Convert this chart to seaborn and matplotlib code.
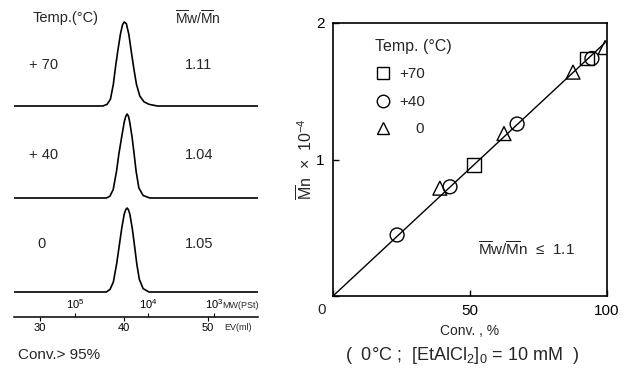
import numpy as np
import pandas as pd
import matplotlib
matplotlib.use("Agg")
import matplotlib.pyplot as plt
from matplotlib.lines import Line2D
import seaborn as sns

# --- GPC traces: elution volume (ml) vs normalised detector response ---
ev_70 = [26.9, 37.5, 38.0, 38.4, 38.75, 39.0, 39.3, 39.6, 39.85, 40.05, 40.3, 40.6, 40.9, 41.2, 41.5, 41.9, 42.4, 43.0, 44.0, 56.0]
h_70 = [0.0, 0.0, 0.02, 0.08, 0.26, 0.46, 0.67, 0.86, 0.97, 1.0, 0.98, 0.85, 0.64, 0.44, 0.26, 0.12, 0.05, 0.02, 0.0, 0.0]
ev_40 = [26.9, 37.9, 38.33, 38.73, 39.13, 39.4, 39.73, 40.04, 40.22, 40.39, 40.56, 40.71, 40.99, 41.23, 41.46, 41.79, 42.3, 43.1, 56.0]
h_40 = [0.0, 0.0, 0.02, 0.10, 0.32, 0.52, 0.72, 0.90, 0.97, 1.0, 0.97, 0.90, 0.72, 0.52, 0.32, 0.12, 0.03, 0.0, 0.0]
ev_0 = [26.9, 37.9, 38.35, 38.75, 39.15, 39.45, 39.75, 40.05, 40.23, 40.39, 40.55, 40.73, 41.03, 41.3, 41.55, 41.85, 42.3, 43.0, 56.0]
h_0 = [0.0, 0.0, 0.03, 0.12, 0.34, 0.55, 0.76, 0.93, 0.98, 1.0, 0.98, 0.92, 0.74, 0.53, 0.33, 0.15, 0.04, 0.0, 0.0]

gpc_temps = ["+ 70", "+ 40", "0"]
gpc_mwmn = ["1.11", "1.04", "1.05"]
ev_ticks = [30, 40, 50]
mw_tick_ev = [34.2, 42.9, 50.8]
mw_tick_labels = ["$10^5$", "$10^4$", "$10^3$"]

# --- Mn vs conversion ---
temps = ["+70", "+40", "0"]
conv_70 = [51.5, 92.7]
mn_70 = [0.96, 1.74]
conv_40 = [23.4, 42.7, 67.2, 94.5]
mn_40 = [0.447, 0.80, 1.26, 1.74]
conv_0 = [39.0, 62.4, 87.6, 99.3]
mn_0 = [0.79, 1.19, 1.64, 1.82]
fit_conv = [0, 99]
fit_mn = [0, 1.85]

sns.set_style("white")
plt.rcParams["font.family"] = ["Liberation Sans", "DejaVu Sans"]
plt.rcParams["mathtext.default"] = "regular"

W, H = 624, 370
fig = plt.figure(figsize=(W / 100, H / 100), dpi=100)


def fx(x):
    return x / W


def fy(y):
    return 1 - y / H


# left panel: GPC curves
ax1 = fig.add_axes([fx(14), fy(317), fx(258) - fx(14), fy(0) - fy(317)])
traces = [(ev_70, h_70), (ev_40, h_40), (ev_0, h_0)]
offsets = [211, 119, 25]
for (ev, h), off in zip(traces, offsets):
    df = pd.DataFrame({"ev": ev, "y": np.array(h) * 84 + off})
    sns.lineplot(data=df, x="ev", y="y", ax=ax1, color="black", lw=1.2,
                 sort=False, estimator=None)
ax1.set_xlim(26.9, 56.0)
ax1.set_ylim(0, 317)
for s in ["left", "right", "top"]:
    ax1.spines[s].set_visible(False)
ax1.spines["bottom"].set_color("black")
ax1.spines["bottom"].set_linewidth(1.1)
ax1.set_yticks([])
ax1.set_xticks(ev_ticks)
ax1.tick_params(axis="x", bottom=True, direction="out", length=3, width=0.8,
                labelsize=8, pad=1, colors="black")
ax1.set_xlabel("")
ax1.set_ylabel("")

ax_mw = ax1.twiny()
ax_mw.set_xlim(ax1.get_xlim())
ax_mw.spines["top"].set_position(("data", 0))
for s in ["left", "right", "bottom", "top"]:
    ax_mw.spines[s].set_visible(False)
ax_mw.set_xticks(mw_tick_ev, mw_tick_labels)
ax_mw.tick_params(axis="x", top=True, labeltop=True, direction="out", length=3,
                  width=0.8, labelsize=8, pad=1, colors="black")

fig.text(fx(33), fy(18), "Temp.(°C)", ha="left", va="center", fontsize=10.5)
fig.text(fx(175), fy(18), r"$\overline{M}$w/$\overline{M}$n", ha="left", va="center", fontsize=10)
for i, (t, r) in enumerate(zip(gpc_temps, gpc_mwmn)):
    yy = [65, 155, 244][i]
    fig.text(fx(29 if t != "0" else 37), fy(yy), t, ha="left", va="center", fontsize=10.5)
    fig.text(fx(185), fy(yy), r, ha="left", va="center", fontsize=10.5)
fig.text(fx(222), fy(306), "MW(PSt)", ha="left", va="center", fontsize=6.5)
fig.text(fx(224), fy(328), "EV(ml)", ha="left", va="center", fontsize=6.5)
fig.text(fx(18), fy(355), "Conv.> 95%", ha="left", va="center", fontsize=11)

# right panel: Mn vs conversion
ax2 = fig.add_axes([fx(333), fy(296), fx(607) - fx(333), fy(23) - fy(296)])
sns.lineplot(x=fit_conv, y=fit_mn, ax=ax2, color="black", lw=1.0)
pts = pd.DataFrame({
    "conv": conv_70 + conv_40 + conv_0,
    "mn": mn_70 + mn_40 + mn_0,
    "temp": ["+70"] * len(conv_70) + ["+40"] * len(conv_40) + ["0"] * len(conv_0),
})
markers = {"+70": "s", "+40": "o", "0": "^"}
sns.scatterplot(data=pts, x="conv", y="mn", style="temp", style_order=temps,
                markers=markers, s=100, facecolor="none", edgecolor="black",
                linewidth=1.0, legend=False, ax=ax2, zorder=3)
ax2.collections[-1].set_facecolor("none")
ax2.collections[-1].set_edgecolor("black")

ax2.set_xlim(0, 100)
ax2.set_ylim(0, 2)
ax2.set_xticks([0, 50, 100], ["", "50", "100"])
ax2.set_yticks([0, 1, 2], ["", "1", "2"])
ax2.tick_params(bottom=True, left=True, direction="in", length=4, width=1,
                labelsize=11, colors="black", pad=6)
for s in ax2.spines.values():
    s.set_color("black")
    s.set_linewidth(1.2)
ax2.text(-0.04, -0.051, "0", transform=ax2.transAxes, ha="center", va="center", fontsize=11)
ax2.set_xlabel("Conv. , %", fontsize=10)
ax2.xaxis.set_label_coords(0.5, (296 - 324) / 273)
ax2.set_ylabel(r"$\overline{M}$n  ×  10$^{-4}$", fontsize=11.5)
ax2.yaxis.set_label_coords((316 - 333) / 274, 0.5)

handles = [Line2D([], [], marker=markers[t], ls="none", mfc="none", mec="black",
                  ms=9, mew=1.0) for t in temps]
ax2.legend(handles, ["+70", "+40", "    0"], title="Temp. (°C)", loc="upper left",
           bbox_to_anchor=((375 - 333) / 274, (296 - 39) / 273), frameon=False,
           borderpad=0, borderaxespad=0, handlelength=1.0, handletextpad=0.6,
           labelspacing=0.88, fontsize=11, title_fontsize=11.5, alignment="left")

ax2.text((478 - 333) / 274, (296 - 250) / 273, r"$\overline{M}$w/$\overline{M}$n  ≤  1.1",
         transform=ax2.transAxes, ha="left", va="center", fontsize=11)

fig.text(fx(462), fy(355), "(  0°C ;  [EtAlCl$_2$]$_0$ = 10 mM  )", ha="center",
         va="center", fontsize=13)

fig.savefig("out.png", dpi=100)
